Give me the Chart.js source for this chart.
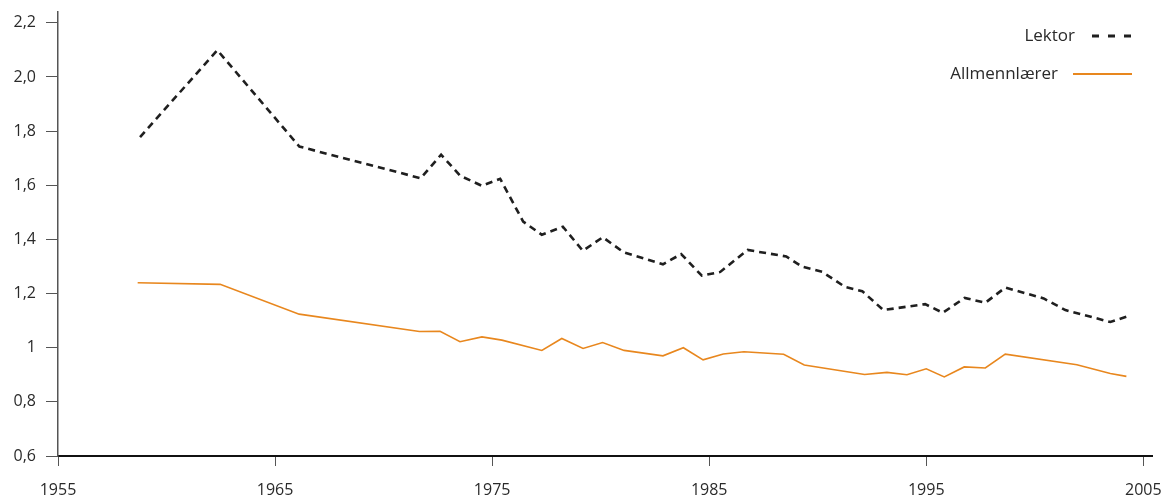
<!DOCTYPE html>
<html>
<head>
<meta charset="utf-8">
<script src="https://cdn.jsdelivr.net/npm/chart.js@4/dist/chart.umd.min.js"></script>
<style>
  html, body { margin: 0; padding: 0; background: #ffffff; }
  #wrap { width: 1167px; height: 499px; position: relative; }
</style>
</head>
<body>
<div id="wrap"><canvas id="c" width="1167" height="499"></canvas></div>
<script>
// ---- Data ----
const lektorYears = [1958.78, 1962.34, 1966.12, 1971.71, 1972.65, 1973.53, 1974.53, 1975.37, 1976.43, 1977.29,
  1978.26, 1979.18, 1980.10, 1981.05, 1982.87, 1983.71, 1984.66, 1985.51, 1986.77, 1988.55,
  1989.29, 1990.21, 1991.27, 1992.05, 1993.02, 1994.95, 1995.76, 1996.77, 1997.72, 1998.64,
  2000.41, 2001.41, 2003.48, 2004.24];
const lektorValues = [1.778, 2.099, 1.743, 1.626, 1.713, 1.635, 1.598, 1.624, 1.466, 1.417,
  1.447, 1.358, 1.408, 1.353, 1.308, 1.346, 1.266, 1.280, 1.361, 1.337,
  1.299, 1.280, 1.224, 1.209, 1.139, 1.161, 1.129, 1.184, 1.166, 1.222,
  1.182, 1.139, 1.095, 1.115];

const allmYears = [1958.67, 1962.47, 1966.11, 1971.65, 1972.60, 1973.52, 1974.53, 1975.45, 1977.29, 1978.21,
  1979.19, 1980.09, 1981.08, 1982.87, 1983.81, 1984.72, 1985.65, 1986.60, 1988.43, 1989.38,
  1992.16, 1993.19, 1994.11, 1995.00, 1995.83, 1996.75, 1997.72, 1998.64, 2001.94, 2003.48,
  2004.22];
const allmValues = [1.240, 1.234, 1.124, 1.060, 1.061, 1.022, 1.040, 1.028, 0.990, 1.034,
  0.997, 1.019, 0.990, 0.970, 1.000, 0.955, 0.977, 0.985, 0.976, 0.936,
  0.901, 0.909, 0.900, 0.922, 0.892, 0.929, 0.925, 0.976, 0.937, 0.905,
  0.894];

const seriesNames = ['Lektor', 'Allmennlærer'];
const xTickValues = [1955, 1965, 1975, 1985, 1995, 2005];
const yTickValues = [0.6, 0.8, 1.0, 1.2, 1.4, 1.6, 1.8, 2.0, 2.2];
const yTickLabels = ['0,6', '0,8', '1', '1,2', '1,4', '1,6', '1,8', '2,0', '2,2'];

// ---- Styling ----
const FONT = '"Open Sans", "Noto Sans", sans-serif';
const TEXT = '#2a2a2a';
const LEKTOR_COLOR = '#1f1f1f';
const ALLM_COLOR = '#e8871e';

const toPoints = (xs, ys) => xs.map((x, i) => ({ x: x, y: ys[i] }));

// Custom legend: text on the left, line sample on the right, right-aligned.
const customLegend = {
  id: 'customLegend',
  afterDraw(chart) {
    const ctx = chart.ctx;
    const items = [
      { ds: chart.data.datasets[0], textRight: 1075, x0: 1092, x1: 1132, y: 36, dash: [7, 9], width: 3 },
      { ds: chart.data.datasets[1], textRight: 1058, x0: 1073, x1: 1132, y: 74, dash: [], width: 2 }
    ];
    ctx.save();
    items.forEach(it => {
      ctx.font = '17px ' + FONT;
      ctx.fillStyle = TEXT;
      ctx.textAlign = 'right';
      ctx.textBaseline = 'middle';
      ctx.fillText(it.ds.label, it.textRight, it.y);
      ctx.beginPath();
      ctx.setLineDash(it.dash);
      ctx.lineWidth = it.width;
      ctx.strokeStyle = it.ds.borderColor;
      ctx.moveTo(it.x0, it.y);
      ctx.lineTo(it.x1, it.y);
      ctx.stroke();
    });
    ctx.restore();
  }
};

new Chart(document.getElementById('c'), {
  type: 'line',
  data: {
    datasets: [
      {
        label: seriesNames[0],
        data: toPoints(lektorYears, lektorValues),
        borderColor: LEKTOR_COLOR,
        borderWidth: 2.6,
        borderDash: [7, 5],
        pointRadius: 0,
        tension: 0,
        fill: false
      },
      {
        label: seriesNames[1],
        data: toPoints(allmYears, allmValues),
        borderColor: ALLM_COLOR,
        borderWidth: 1.6,
        pointRadius: 0,
        tension: 0,
        fill: false
      }
    ]
  },
  options: {
    responsive: false,
    animation: false,
    devicePixelRatio: 1,
    layout: { padding: { left: 0, right: 15, top: 12, bottom: 0 } },
    plugins: {
      legend: { display: false },
      tooltip: { enabled: false },
      title: { display: false }
    },
    scales: {
      x: {
        type: 'linear',
        min: 1955,
        max: 2005.4,
        afterBuildTicks: (scale) => { scale.ticks = xTickValues.map(v => ({ value: v })); },
        afterFit: (scale) => { scale.height = 43; scale.paddingLeft = 0; scale.paddingRight = 0; },
        border: { display: true, color: '#111111', width: 2 },
        grid: { display: true, drawOnChartArea: false, drawTicks: true, tickLength: 10, color: '#555555', lineWidth: 1 },
        ticks: {
          autoSkip: false,
          maxRotation: 0,
          padding: 15,
          color: TEXT,
          font: { family: FONT, size: 16 },
          callback: (v) => String(v)
        }
      },
      y: {
        type: 'linear',
        min: 0.6,
        max: 2.24,
        afterBuildTicks: (scale) => { scale.ticks = yTickValues.map(v => ({ value: v })); },
        afterFit: (scale) => { scale.width = 58; scale.paddingTop = 0; scale.paddingBottom = 0; },
        border: { display: true, color: '#555555', width: 1.5 },
        grid: { display: true, drawOnChartArea: false, drawTicks: true, tickLength: 12, color: '#555555', lineWidth: 1 },
        ticks: {
          autoSkip: false,
          padding: 10,
          color: TEXT,
          font: { family: FONT, size: 16 },
          callback: (v) => {
            const i = yTickValues.findIndex(t => Math.abs(t - v) < 1e-6);
            return i >= 0 ? yTickLabels[i] : '';
          }
        }
      }
    }
  },
  plugins: [customLegend]
});
</script>
</body>
</html>
